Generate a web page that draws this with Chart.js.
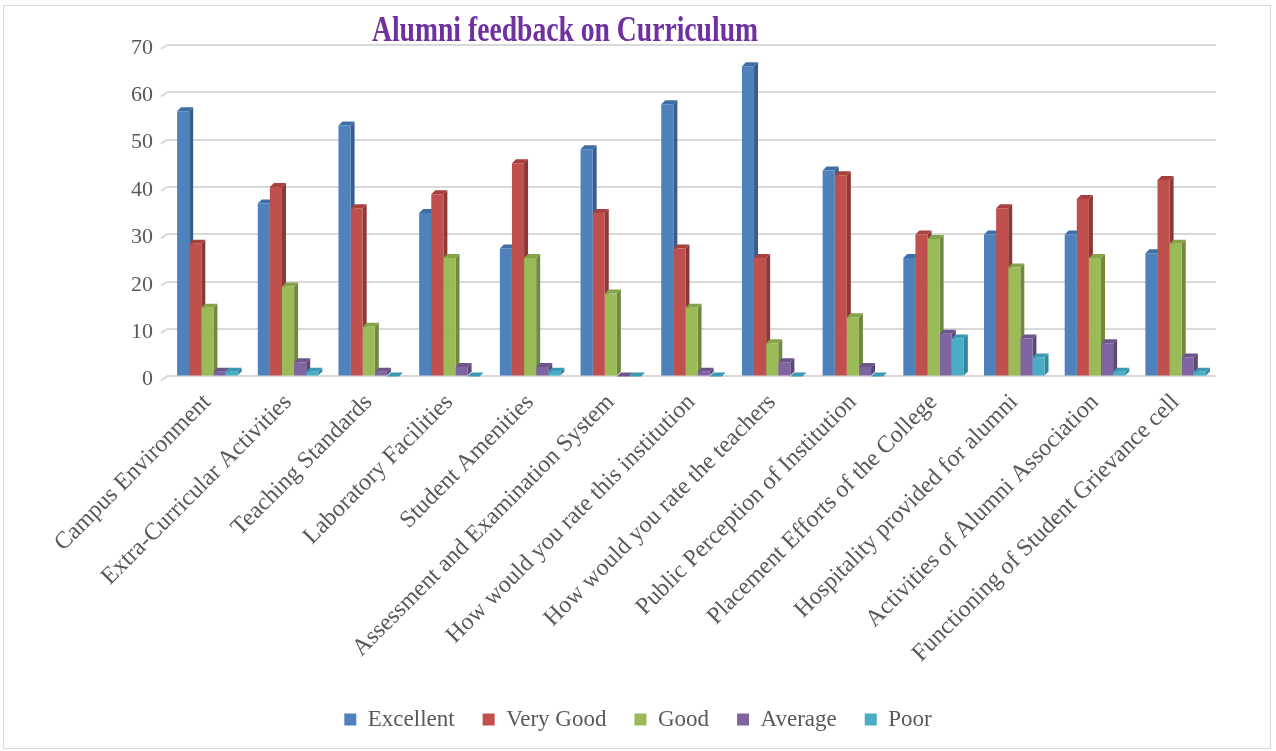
<!DOCTYPE html>
<html>
<head>
<meta charset="utf-8">
<script src="https://cdn.jsdelivr.net/npm/chart.js@4/dist/chart.umd.min.js"></script>
<style>
  html, body { margin: 0; padding: 0; background: #fff; }
  #wrap { position: relative; width: 1276px; height: 751px; }
  #frame { position: absolute; left: 3px; top: 5px; width: 1266px; height: 742px; border: 1px solid #d9d9d9; pointer-events: none; }
</style>
</head>
<body>
<div id="wrap">
  <canvas id="c" width="1276" height="751"></canvas>
  <div id="frame"></div>
</div>
<script>
const titleText = "Alumni feedback on Curriculum";
const categories = [
  "Campus Environment",
  "Extra-Curricular Activities",
  "Teaching Standards",
  "Laboratory Facilities",
  "Student Amenities",
  "Assessment and Examination System",
  "How would you rate this institution",
  "How would you rate the teachers",
  "Public Perception of Institution",
  "Placement Efforts of the College",
  "Hospitality provided for alumni",
  "Activities of Alumni Association",
  "Functioning of Student Grievance cell"
];
const seriesNames = ["Excellent", "Very Good", "Good", "Average", "Poor"];
const excellent = [56, 36.5, 53, 34.5, 27, 48, 57.5, 65.5, 43.5, 25, 30, 30, 26];
const veryGood  = [28, 40, 35.5, 38.5, 45, 34.5, 27, 25, 42.5, 30, 35.5, 37.5, 41.5];
const good      = [14.5, 19, 10.5, 25, 25, 17.5, 14.5, 7, 12.5, 29, 23, 25, 28];
const average   = [1, 3, 1, 2, 2, 0, 1, 3, 2, 9, 8, 7, 4];
const poor      = [1, 1, 0, 0, 1, 0, 0, 0, 0, 8, 4, 1, 1];
const yTicks = [0, 10, 20, 30, 40, 50, 60, 70];

const colors = ["#4F81BD", "#C0504D", "#9BBB59", "#8064A2", "#4BACC6"];
const sideColors = ["#385D8A", "#8C3836", "#71893F", "#5C4776", "#31859C"];
const topColors = ["#3F6DA5", "#A8413E", "#85A34A", "#6C548C", "#3A9AB3"];
const seriesData = [excellent, veryGood, good, average, poor];

const DEPTH = 4;
const SERIF = '"Liberation Serif", "Times New Roman", serif';

const depthPlugin = {
  id: 'depth',
  beforeDatasetsDraw(chart) {
    const ctx = chart.ctx;
    const area = chart.chartArea;
    ctx.save();
    ctx.strokeStyle = '#d9d9d9';
    ctx.lineWidth = 2;
    const ys = chart.scales.y;
    yTicks.forEach(v => {
      const y = ys.getPixelForValue(v);
      ctx.beginPath();
      ctx.moveTo(area.left - 6, y + 4);
      ctx.lineTo(area.left, y);
      ctx.stroke();
    });
    ctx.restore();
    ctx.save();
    chart.data.datasets.forEach((ds, di) => {
      const meta = chart.getDatasetMeta(di);
      meta.data.forEach(bar => {
        const w = bar.width, x = bar.x, y = bar.y, base = bar.base;
        const l = x - w / 2, r = x + w / 2;
        ctx.fillStyle = sideColors[di];
        ctx.beginPath();
        ctx.moveTo(r, y);
        ctx.lineTo(r + DEPTH, y - DEPTH);
        ctx.lineTo(r + DEPTH, base - DEPTH);
        ctx.lineTo(r, base);
        ctx.closePath();
        ctx.fill();
        ctx.fillStyle = topColors[di];
        ctx.beginPath();
        ctx.moveTo(l, y);
        ctx.lineTo(l + DEPTH, y - DEPTH);
        ctx.lineTo(r + DEPTH, y - DEPTH);
        ctx.lineTo(r, y);
        ctx.closePath();
        ctx.fill();
      });
    });
    ctx.restore();
  },
  afterDraw(chart) {
    const ctx = chart.ctx;
    ctx.save();
    ctx.font = 'bold 36px ' + SERIF;
    const w = ctx.measureText(titleText).width;
    const sx = 386 / w;
    ctx.translate(565, 41);
    ctx.scale(sx, 1);
    ctx.fillStyle = '#7030A0';
    ctx.textAlign = 'center';
    ctx.textBaseline = 'alphabetic';
    ctx.fillText(titleText, 0, 0);
    ctx.restore();
  }
};

new Chart(document.getElementById('c'), {
  type: 'bar',
  data: {
    labels: categories,
    datasets: seriesNames.map((n, i) => ({
      label: n,
      data: seriesData[i],
      backgroundColor: colors[i],
      borderWidth: 0,
      categoryPercentage: 0.75,
      barPercentage: 1.0
    }))
  },
  options: {
    responsive: false,
    animation: false,
    devicePixelRatio: 1,
    layout: { padding: { left: 60, right: 60, top: 45, bottom: 10 } },
    plugins: {
      title: { display: false },
      tooltip: { enabled: false },
      legend: {
        position: 'bottom',
        labels: {
          boxWidth: 12,
          boxHeight: 12,
          padding: 28,
          color: '#595959',
          font: { family: SERIF, size: 23 }
        }
      }
    },
    scales: {
      x: {
        grid: { display: false, drawTicks: false },
        border: { display: false },
        ticks: {
          color: '#595959',
          font: { family: SERIF, size: 24 },
          minRotation: 45,
          maxRotation: 45,
          autoSkip: false,
          padding: 12
        }
      },
      y: {
        min: 0,
        max: 70,
        afterFit(scale) { scale.width = 107; },
        grid: { color: '#d9d9d9', lineWidth: 2, drawTicks: false },
        border: { display: false },
        ticks: {
          stepSize: 10,
          color: '#595959',
          font: { family: SERIF, size: 22 },
          padding: 14,
          labelOffset: 3
        }
      }
    }
  },
  plugins: [depthPlugin]
});
</script>
</body>
</html>
